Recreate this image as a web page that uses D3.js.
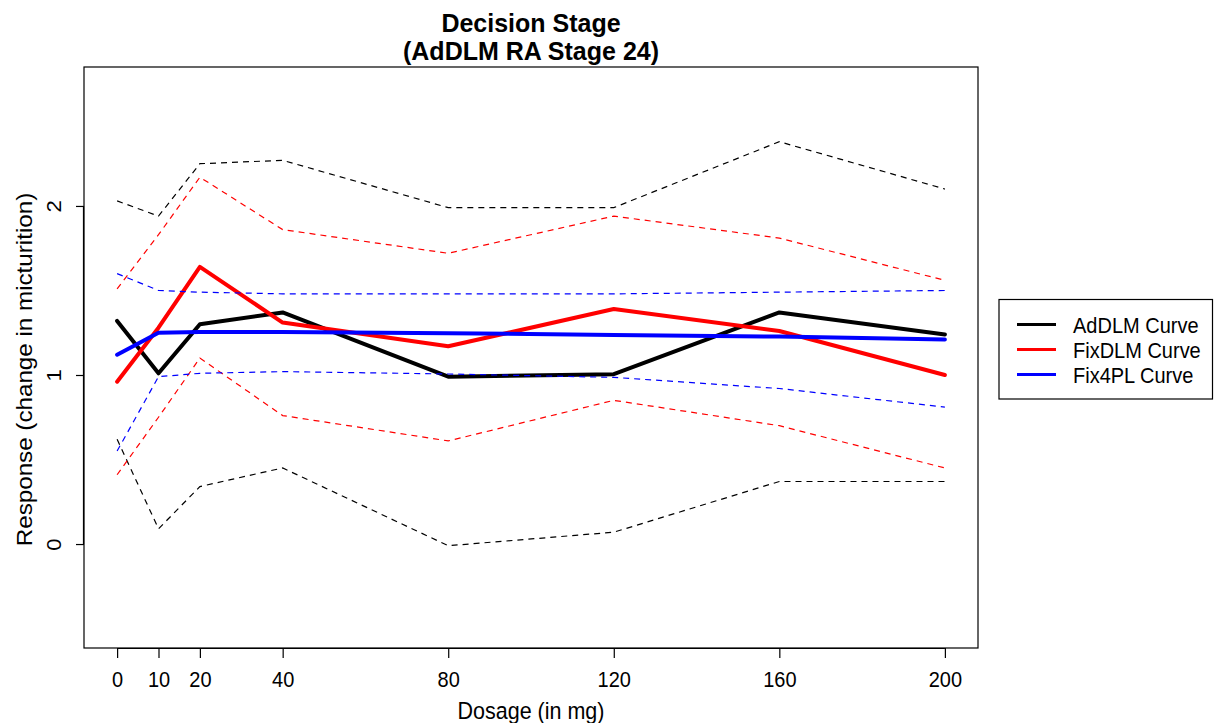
<!DOCTYPE html>
<html>
<head>
<meta charset="utf-8">
<script src="https://cdn.jsdelivr.net/npm/d3@7"></script>
<style>
  html, body { margin: 0; padding: 0; background: #fff; }
  svg { display: block; }
  text { font-family: "Liberation Sans", Arial, Helvetica, sans-serif; fill: #000; }
</style>
</head>
<body>
<svg id="chart" width="1217" height="723"></svg>
<script>
// Dose levels (mg)
const doses = [0, 10, 20, 40, 80, 120, 160, 200];
const xTickLabels = ["0", "10", "20", "40", "80", "120", "160", "200"];
const yTicks = [0, 1, 2];

// AdDLM fitted curve with its lower / upper bands
const adDLM      = [1.32, 1.01, 1.30, 1.37, 0.99, 1.005, 1.37, 1.24];
const adDLMLower = [0.62, 0.09, 0.34, 0.45, -0.01, 0.07, 0.37, 0.37];
const adDLMUpper = [2.03, 1.94, 2.25, 2.27, 1.99, 1.99, 2.38, 2.10];

// FixDLM fitted curve with its lower / upper bands
const fixDLM      = [0.96, 1.28, 1.64, 1.31, 1.17, 1.39, 1.26, 1.00];
const fixDLMLower = [0.41, 0.75, 1.10, 0.76, 0.61, 0.85, 0.70, 0.45];
const fixDLMUpper = [1.51, 1.83, 2.17, 1.86, 1.72, 1.94, 1.81, 1.56];

// Fix4PL fitted curve with its lower / upper bands
const fix4PL      = [1.12, 1.25, 1.255, 1.255, 1.247, 1.237, 1.227, 1.21];
const fix4PLLower = [0.55, 0.99, 1.01, 1.02, 1.006, 0.986, 0.92, 0.81];
const fix4PLUpper = [1.60, 1.50, 1.49, 1.48, 1.48, 1.48, 1.49, 1.50];

const seriesNames = ["AdDLM Curve", "FixDLM Curve", "Fix4PL Curve"];
const seriesColors = ["#000000", "#ff0000", "#0000ff"];

const titleLines = ["Decision Stage", "(AdDLM RA Stage 24)"];
const xLabel = "Dosage (in mg)";
const yLabel = "Response (change in micturition)";

// Plot region; glyphs are drawn slightly taller than wide
const plot = { left: 84, right: 978, top: 67, bottom: 648 };
const stretch = 1.1;

const svg = d3.select("#chart");

const x = d3.scaleLinear().domain([-8, 208]).range([plot.left, plot.right]);
const y = d3.scaleLinear().domain([-0.615, 2.822]).range([plot.bottom, plot.top]);

const line = d3.line()
  .x((d, i) => x(doses[i]))
  .y(d => y(d));

const groups = [
  { mid: adDLM,  lo: adDLMLower,  hi: adDLMUpper,  color: seriesColors[0] },
  { mid: fixDLM, lo: fixDLMLower, hi: fixDLMUpper, color: seriesColors[1] },
  { mid: fix4PL, lo: fix4PLLower, hi: fix4PLUpper, color: seriesColors[2] }
];

const curves = svg.append("g");
groups.forEach(g => {
  curves.append("path")
    .attr("d", line(g.mid))
    .attr("fill", "none")
    .attr("stroke", g.color)
    .attr("stroke-width", 4)
    .attr("stroke-linejoin", "round")
    .attr("stroke-linecap", "round");
  [g.lo, g.hi].forEach(band => {
    curves.append("path")
      .attr("d", line(band))
      .attr("fill", "none")
      .attr("stroke", g.color)
      .attr("stroke-width", 1.2)
      .attr("stroke-dasharray", "6,5");
  });
});

// Box around plot region
svg.append("rect")
  .attr("x", plot.left).attr("y", plot.top)
  .attr("width", plot.right - plot.left)
  .attr("height", plot.bottom - plot.top)
  .attr("fill", "none")
  .attr("stroke", "#000")
  .attr("stroke-width", 1.2);

// X axis
const xAxis = d3.axisBottom(x)
  .tickValues(doses)
  .tickFormat((d, i) => xTickLabels[i])
  .tickSize(10)
  .tickPadding(5);
const gx = svg.append("g")
  .attr("transform", `translate(0,${plot.bottom})`)
  .call(xAxis);
gx.select(".domain").attr("d", `M${x(doses[0])},0.5H${x(doses[doses.length - 1])}`).attr("stroke-width", 1.2);
gx.selectAll(".tick line").attr("stroke-width", 1.2);
gx.selectAll(".tick text")
  .attr("font-size", 20)
  .attr("font-family", "Liberation Sans, Arial, sans-serif")
  .attr("dy", null)
  .attr("y", null)
  .attr("transform", `translate(0,39) scale(1,${stretch})`);

// Y axis
const yAxis = d3.axisLeft(y)
  .tickValues(yTicks)
  .tickFormat(d3.format("d"))
  .tickSize(8);
const gy = svg.append("g")
  .attr("transform", `translate(${plot.left},0)`)
  .call(yAxis);
gy.select(".domain").attr("d", `M-0.5,${y(yTicks[0])}V${y(yTicks[yTicks.length - 1])}`).attr("stroke-width", 1.2);
gy.selectAll(".tick line").attr("stroke-width", 1.2);
gy.selectAll(".tick text")
  .attr("font-size", 20)
  .attr("font-family", "Liberation Sans, Arial, sans-serif")
  .attr("x", null).attr("dy", null)
  .attr("text-anchor", "middle")
  .attr("transform", `translate(-23,0) scale(1,${stretch}) rotate(-90)`);

// Axis titles
svg.append("text")
  .attr("transform", `translate(${(plot.left + plot.right) / 2},719) scale(1,${stretch})`)
  .attr("text-anchor", "middle")
  .attr("font-size", 21.5)
  .text(xLabel);

svg.append("text")
  .attr("transform", `translate(32,${(plot.top + plot.bottom) / 2 + 12}) scale(1,${stretch}) rotate(-90)`)
  .attr("text-anchor", "middle")
  .attr("font-size", 22)
  .text(yLabel);

// Main title, two lines
svg.selectAll("text.title")
  .data(titleLines)
  .join("text")
  .attr("class", "title")
  .attr("x", (plot.left + plot.right) / 2)
  .attr("y", (d, i) => 31.5 + i * 28)
  .attr("text-anchor", "middle")
  .attr("font-size", 25)
  .attr("font-weight", "bold")
  .text(d => d);

// Legend
const legend = svg.append("g");
legend.append("rect")
  .attr("x", 999).attr("y", 299.5)
  .attr("width", 213.5).attr("height", 99.5)
  .attr("fill", "#fff")
  .attr("stroke", "#000")
  .attr("stroke-width", 1.2);
seriesNames.forEach((name, i) => {
  const ly = 324.5 + i * 25;
  legend.append("line")
    .attr("x1", 1017).attr("x2", 1056)
    .attr("y1", ly).attr("y2", ly)
    .attr("stroke", seriesColors[i])
    .attr("stroke-width", 3);
  legend.append("text")
    .attr("transform", `translate(1073,${ly + 8}) scale(1,${stretch})`)
    .attr("font-size", 20)
    .text(name);
});
</script>
</body>
</html>
